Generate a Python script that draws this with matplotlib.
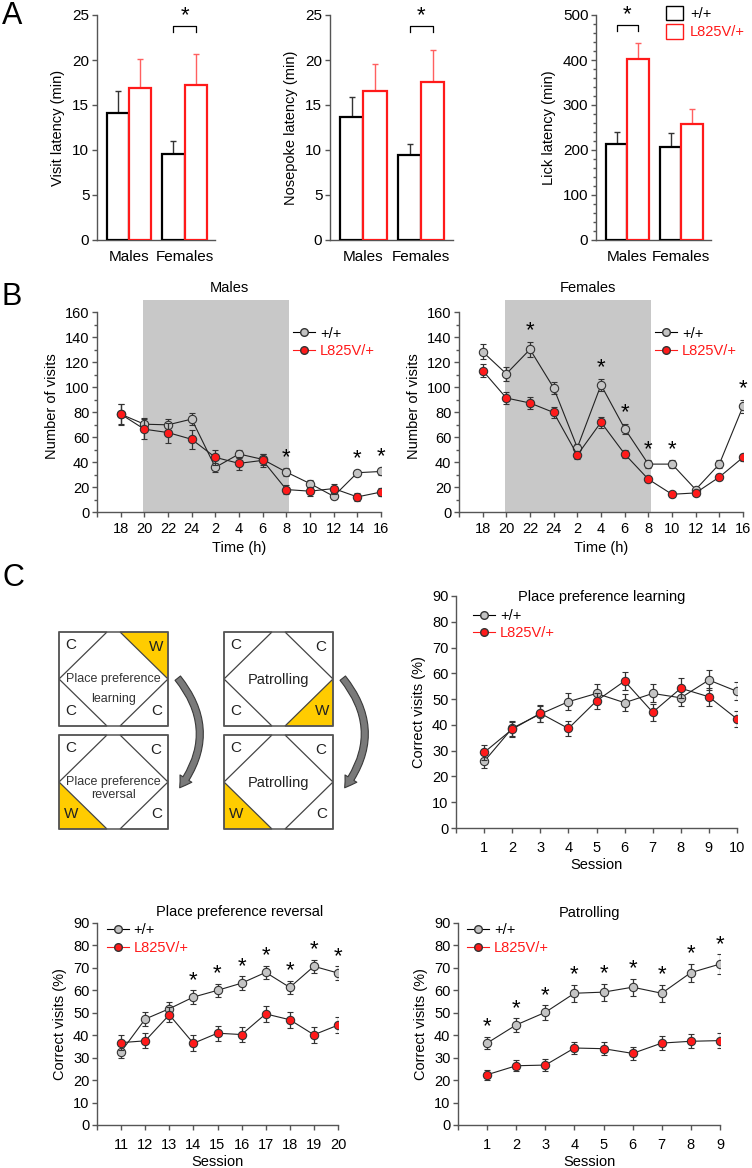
import matplotlib.pyplot as plt
from matplotlib.patches import Polygon, Rectangle, Patch, FancyArrowPatch
from matplotlib.lines import Line2D
from matplotlib.ticker import MultipleLocator, FixedLocator
import numpy as np

plt.rcParams['font.family'] = ['Liberation Sans', 'DejaVu Sans']
plt.rcParams['font.size'] = 10.5

W, H = 752, 1168
RED = '#ff1a1a'
GRAY_FILL = '#c4c4c4'
SPINE = '#555555'

# ---------- Panel A: latencies ----------
groups = ['Males', 'Females']
genotypes = ['+/+', 'L825V/+']
visit_wt = [14.1, 9.6]
visit_wt_err = [2.4, 1.4]
visit_mut = [16.9, 17.2]
visit_mut_err = [3.2, 3.5]
nose_wt = [13.7, 9.4]
nose_wt_err = [2.2, 1.3]
nose_mut = [16.5, 17.6]
nose_mut_err = [3.1, 3.5]
lick_wt = [213, 207]
lick_wt_err = [27, 30]
lick_mut = [402, 258]
lick_mut_err = [35, 32]

# ---------- Panel B: visits over the day ----------
hours = ['18', '20', '22', '24', '2', '4', '6', '8', '10', '12', '14', '16']
males_wt = [78.5, 70.4, 69.9, 74.5, 35.8, 46.5, 42.2, 32.0, 22.8, 12.6, 31.5, 32.5]
males_wt_err = [8.5, 5, 5, 5, 3.5, 3.5, 4.5, 3, 2.5, 2, 2.5, 3]
males_mut = [78.5, 66.4, 63.7, 58.3, 43.8, 39.0, 41.4, 18.0, 16.7, 18.8, 12.1, 16.0]
males_mut_err = [8, 8, 8, 7.5, 6, 5.5, 5.5, 3.5, 3.5, 4, 3, 3.5]
males_sig = ['8', '14', '16']
females_wt = [128.5, 110.8, 130.4, 99.5, 51.6, 101.9, 66.9, 38.4, 38.4, 18.0, 38.4, 84.7]
females_wt_err = [6, 5.5, 6, 5, 3, 5, 4, 3, 3, 2, 3, 5]
females_mut = [113.4, 91.4, 87.4, 79.8, 45.7, 72.0, 46.5, 26.3, 14.2, 15.3, 28.0, 43.8]
females_mut_err = [5.5, 5, 5, 4.5, 3.5, 4.5, 3.5, 2.5, 2, 2, 2.5, 3]
females_sig = ['22', '4', '6', '8', '10', '16']

# ---------- Panel C: correct visits ----------
learn_sessions = list(range(1, 11))
learn_wt = [25.8, 38.7, 44.2, 49.0, 52.2, 48.6, 52.2, 50.5, 57.4, 53.0]
learn_wt_err = [2.5, 3, 3, 3.3, 3.5, 3.3, 3.5, 3.3, 4, 3.5]
learn_mut = [29.3, 38.3, 44.5, 38.6, 49.3, 57.0, 44.9, 54.2, 50.9, 42.3]
learn_mut_err = [2.8, 3, 3.2, 3, 3.2, 3.6, 3.2, 3.8, 3.5, 3.2]

rev_sessions = list(range(11, 21))
rev_wt = [32.7, 47.2, 51.8, 57.0, 60.0, 63.2, 68.0, 61.3, 70.7, 67.7]
rev_wt_err = [2.8, 3, 3, 3, 3, 3, 3, 3, 3, 3]
rev_mut = [36.7, 37.5, 49.1, 36.4, 40.9, 40.3, 49.5, 46.9, 40.2, 44.5]
rev_mut_err = [3.3, 3.3, 3.3, 3.5, 3.3, 3.5, 3.5, 3.5, 3.5, 3.5]
rev_sig = [14, 15, 16, 17, 18, 19, 20]

pat_sessions = list(range(1, 10))
pat_wt = [36.5, 44.6, 50.2, 58.7, 59.2, 61.4, 58.7, 67.9, 71.7]
pat_wt_err = [2.8, 3, 3.2, 3.8, 3.8, 3.8, 3.8, 4, 4.3]
pat_mut = [22.4, 26.4, 26.7, 34.3, 34.0, 31.9, 36.5, 37.3, 37.6]
pat_mut_err = [2.3, 2.5, 2.5, 2.8, 2.8, 2.8, 3, 3.2, 3.2]
pat_sig = list(range(1, 10))

fig = plt.figure(figsize=(W / 100, H / 100), dpi=100)


def px_axes(left, top, right, bottom):
    return fig.add_axes([left / W, 1 - bottom / H, (right - left) / W, (bottom - top) / H])


def style_axes(ax, tick_size):
    for s in ['top', 'right']:
        ax.spines[s].set_visible(False)
    for s in ['left', 'bottom']:
        ax.spines[s].set_color(SPINE)
        ax.spines[s].set_linewidth(1.0)
    ax.tick_params(which='both', direction='out', color=SPINE, width=1.0,
                   labelsize=tick_size)
    ax.tick_params(which='major', length=3.5, pad=2)
    ax.tick_params(which='minor', length=2)


def star(ax, x, y, dy):
    ax.annotate('*', xy=(x, y), xytext=(0, dy), textcoords='offset points',
                ha='center', va='center', fontsize=16)


def bar_panel(ax, wt, wt_err, mut, mut_err, ymax, major, minor, ylabel, sig_group, sig_y):
    x = np.arange(len(groups))
    w = 0.4
    ax.bar(x - 0.2, wt, w, facecolor='white', edgecolor='black', linewidth=1.6, zorder=3)
    ax.bar(x + 0.2, mut, w, facecolor='white', edgecolor=RED, linewidth=1.6, zorder=3)
    ax.errorbar(x - 0.2, wt, yerr=[np.zeros(len(wt)), wt_err], fmt='none',
                ecolor='#333333', elinewidth=1.0, capsize=2.5, zorder=2)
    ax.errorbar(x + 0.2, mut, yerr=[np.zeros(len(mut)), mut_err], fmt='none',
                ecolor='#ff6060', elinewidth=1.0, capsize=2.5, zorder=2)
    style_axes(ax, 11)
    ax.set_xlim(-0.58, 1.55)
    ax.set_ylim(0, ymax)
    ax.yaxis.set_major_locator(MultipleLocator(major))
    if minor:
        ax.yaxis.set_minor_locator(MultipleLocator(minor))
    ax.set_xticks(x)
    ax.set_xticklabels(groups)
    ax.tick_params(axis='x', length=0, pad=7)
    ax.set_ylabel(ylabel, labelpad=5, fontsize=10.5)
    # significance bracket
    gx = x[sig_group]
    leg = ymax * 0.026
    ax.plot([gx - 0.2, gx - 0.2, gx + 0.2, gx + 0.2],
            [sig_y - leg, sig_y, sig_y, sig_y - leg], color='black', lw=0.9)
    ax.annotate('*', xy=(gx, sig_y), xytext=(0, 7), textcoords='offset points',
                ha='center', va='center', fontsize=16)


axA1 = px_axes(97, 15, 215, 240)
bar_panel(axA1, visit_wt, visit_wt_err, visit_mut, visit_mut_err, 25, 5, None,
          'Visit latency (min)', 1, 23.8)
axA2 = px_axes(330, 15, 453, 240)
bar_panel(axA2, nose_wt, nose_wt_err, nose_mut, nose_mut_err, 25, 5, None,
          'Nosepoke latency (min)', 1, 23.8)
axA3 = px_axes(596, 15, 711, 240)
bar_panel(axA3, lick_wt, lick_wt_err, lick_mut, lick_mut_err, 500, 100, 20,
          'Lick latency (min)', 0, 478)

legA = fig.legend(handles=[Patch(facecolor='white', edgecolor='black', lw=1.0),
                           Patch(facecolor='white', edgecolor=RED, lw=1.0)],
                  labels=genotypes, loc='upper left', bbox_to_anchor=(666 / W, 1 - 6 / H),
                  frameon=False, handlelength=1.15, handleheight=1.15, handletextpad=0.5,
                  labelspacing=0.2, borderpad=0, borderaxespad=0, fontsize=10.5)
legA.get_texts()[1].set_color(RED)


def line_handles():
    return [Line2D([], [], color='black', lw=0.8, marker='o', ms=5.5,
                   mfc=GRAY_FILL, mec='#333333'),
            Line2D([], [], color=RED, lw=0.8, marker='o', ms=5.5,
                   mfc=RED, mec='#333333')]


def series(ax, x, wt, wt_err, mut, mut_err):
    ax.errorbar(x, wt, yerr=wt_err, fmt='-o', color='#222222', lw=0.8, ms=6,
                mfc=GRAY_FILL, mec='#333333', mew=0.8, ecolor='#333333',
                elinewidth=0.9, capsize=2.4, zorder=3)
    ax.errorbar(x, mut, yerr=mut_err, fmt='-o', color='#222222', lw=0.8, ms=6,
                mfc=RED, mec='#333333', mew=0.8, ecolor='#333333',
                elinewidth=0.9, capsize=2.4, zorder=4)


def add_legend(ax, anchor):
    leg = ax.legend(handles=line_handles(), labels=genotypes, loc='upper left',
                    bbox_to_anchor=anchor, frameon=False, handlelength=1.5,
                    handletextpad=0.35, labelspacing=0.25, borderpad=0,
                    borderaxespad=0, fontsize=10.5)
    leg.get_texts()[1].set_color(RED)


def day_panel(ax, title, wt, wt_err, mut, mut_err, sig, title_x, leg_x):
    x = np.arange(len(hours))
    ax.axvspan(0.95, 7.12, color='#c8c8c8', lw=0, zorder=0)
    series(ax, x, wt, wt_err, mut, mut_err)
    style_axes(ax, 10.5)
    ax.spines['left'].set_bounds(0, 160)
    ax.set_xlim(-1, 11)
    ax.set_ylim(0, 170)
    ax.yaxis.set_major_locator(FixedLocator(np.arange(0, 161, 20)))
    ax.yaxis.set_minor_locator(FixedLocator(np.arange(10, 160, 20)))
    ax.set_xticks(np.arange(-1, 12))
    ax.set_xticklabels([''] + hours)
    ax.tick_params(axis='x', pad=4)
    ax.set_xlabel('Time (h)', labelpad=3)
    ax.set_ylabel('Number of visits', labelpad=4)
    ax.text(title_x, 1.057, title, transform=ax.transAxes, ha='center', va='center')
    for h in sig:
        i = hours.index(h)
        top = max(wt[i] + wt_err[i], mut[i] + mut_err[i])
        star(ax, i, top, 8)
    add_legend(ax, (leg_x, 0.875))


axB1 = px_axes(97, 300, 381, 512)
day_panel(axB1, 'Males', males_wt, males_wt_err, males_mut, males_mut_err,
          males_sig, 0.465, 0.69)
axB2 = px_axes(459, 300, 743, 512)
day_panel(axB2, 'Females', females_wt, females_wt_err, females_mut, females_mut_err,
          females_sig, 0.454, 0.69)


def session_panel(ax, title, sessions, wt, wt_err, mut, mut_err, sig, title_pos, leg_pos):
    series(ax, sessions, wt, wt_err, mut, mut_err)
    style_axes(ax, 10.5)
    ax.set_xlim(sessions[0] - 1, sessions[-1])
    ax.set_ylim(0, 90)
    ax.yaxis.set_major_locator(MultipleLocator(10))
    ax.set_xticks(np.arange(sessions[0] - 1, sessions[-1] + 1))
    ax.set_xticklabels([''] + [str(s) for s in sessions])
    ax.tick_params(axis='x', pad=6)
    ax.set_xlabel('Session', labelpad=2)
    ax.set_ylabel('Correct visits (%)', labelpad=4)
    ax.text(title_pos[0], title_pos[1], title, transform=ax.transAxes,
            ha='center', va='center')
    for s in sig:
        i = sessions.index(s)
        top = max(wt[i] + wt_err[i], mut[i] + mut_err[i])
        star(ax, s, top, 7)
    add_legend(ax, leg_pos)


axC1 = px_axes(456, 596, 737, 828)
session_panel(axC1, 'Place preference learning', learn_sessions, learn_wt, learn_wt_err,
              learn_mut, learn_mut_err, [], (0.52, 0.995), (0.06, 0.945))
axC2 = px_axes(97, 923, 338, 1125)
session_panel(axC2, 'Place preference reversal', rev_sessions, rev_wt, rev_wt_err,
              rev_mut, rev_mut_err, rev_sig, (0.59, 1.055), (0.04, 1.0))
axC3 = px_axes(458, 923, 720, 1125)
session_panel(axC3, 'Patrolling', pat_sessions, pat_wt, pat_wt_err,
              pat_mut, pat_mut_err, pat_sig, (0.50, 1.05), (0.035, 1.0))

# ---------- schematic of the four-corner cage ----------
axd = fig.add_axes([0, 0, 1, 1], zorder=-1)
axd.set_xlim(0, W)
axd.set_ylim(H, 0)
axd.axis('off')

BOX_W, BOX_H = 109, 94
boxes = [
    (59, 632, 'tr', ['Place preference', 'learning'], 20),
    (59, 735, 'bl', ['Place preference', 'reversal'], 13),
    (224, 632, 'br', ['Patrolling'], 0),
    (224, 735, 'bl', ['Patrolling'], 0),
]
for bx, by, water, label_lines, gap in boxes:
    lx, ly = 0.44 * BOX_W, 0.5 * BOX_H
    corners = {
        'tl': [(bx, by), (bx + lx, by), (bx, by + ly)],
        'tr': [(bx + BOX_W, by), (bx + BOX_W - lx, by), (bx + BOX_W, by + ly)],
        'bl': [(bx, by + BOX_H), (bx + lx, by + BOX_H), (bx, by + BOX_H - ly)],
        'br': [(bx + BOX_W, by + BOX_H), (bx + BOX_W - lx, by + BOX_H),
               (bx + BOX_W, by + BOX_H - ly)],
    }
    letter_pos = {
        'tl': (bx + 12, by + 13), 'tr': (bx + BOX_W - 12, by + 15),
        'bl': (bx + 12, by + BOX_H - 15), 'br': (bx + BOX_W - 11, by + BOX_H - 15),
    }
    for key, tri in corners.items():
        fc = '#ffcc00' if key == water else 'none'
        axd.add_patch(Polygon(tri, closed=True, facecolor=fc, edgecolor='#444444', lw=0.9))
        axd.text(*letter_pos[key], 'W' if key == water else 'C', ha='center', va='center',
                 fontsize=11, color='#222222')
    axd.add_patch(Rectangle((bx, by), BOX_W, BOX_H, facecolor='none',
                            edgecolor='#555555', lw=1.1))
    cx, cy = bx + BOX_W / 2, by + BOX_H / 2
    if len(label_lines) == 2:
        axd.text(cx, cy, label_lines[0], ha='center', va='center',
                 fontsize=9, color='#333333')
        axd.text(cx, cy + gap, label_lines[1], ha='center', va='center',
                 fontsize=9, color='#333333')
    else:
        axd.text(cx, cy + 1, label_lines[0], ha='center', va='center',
                 fontsize=10.5, color='#222222')

for ax0 in [176, 341]:
    arrow = FancyArrowPatch((ax0, 676), (ax0 + 2, 790), connectionstyle='arc3,rad=-0.4',
                            arrowstyle='simple,head_width=10,head_length=8,tail_width=5',
                            mutation_scale=1, facecolor='#7a7a7a', edgecolor='#3a3a3a', lw=0.8)
    axd.add_patch(arrow)

# panel letters
fig.text(2 / W, 1 - 1 / H, 'A', fontsize=22, va='top', ha='left')
fig.text(2 / W, 1 - 282 / H, 'B', fontsize=22, va='top', ha='left')
fig.text(2 / W, 1 - 563 / H, 'C', fontsize=22, va='top', ha='left')

fig.savefig('out.png', dpi=100)
